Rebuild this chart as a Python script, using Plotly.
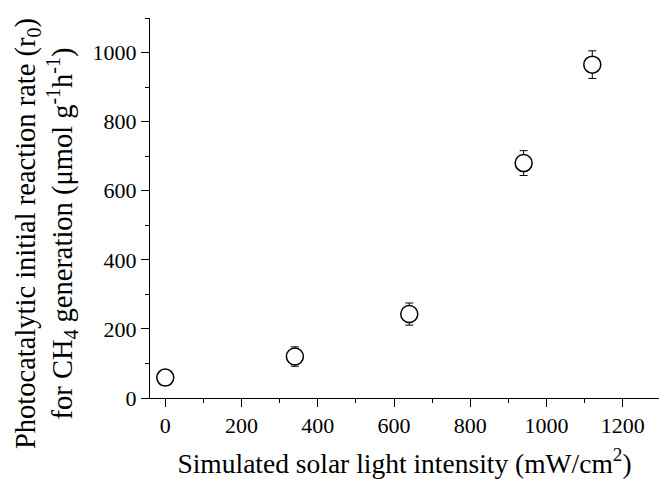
import plotly.graph_objects as go

intensity = [0, 340, 640, 940, 1120]
rate = [59, 120, 243, 680, 965]
rate_err = [5, 28, 32, 36, 40]

x_ticks = [0, 200, 400, 600, 800, 1000, 1200]
y_ticks = [0, 200, 400, 600, 800, 1000]

fig = go.Figure()
fig.add_trace(go.Scatter(
    x=intensity, y=rate, mode="markers",
    marker=dict(symbol="circle", size=17, color="white", line=dict(width=1.5, color="black")),
    error_y=dict(type="data", array=rate_err, visible=True, color="black", thickness=1, width=4),
    showlegend=False,
))

font_family = "Liberation Serif, Times New Roman, serif"
fig.update_layout(
    width=659, height=479,
    margin=dict(l=150, r=0, t=18, b=81),
    paper_bgcolor="white", plot_bgcolor="white",
    font=dict(family=font_family, color="black", size=22),
)
fig.update_xaxes(
    range=[-40, 1295], tickvals=x_ticks, ticktext=[str(v) for v in x_ticks],
    showline=True, linecolor="black", linewidth=1, showgrid=False, zeroline=False,
    ticks="outside", ticklen=8, tickwidth=1, tickcolor="black",
    tickfont=dict(size=22, family=font_family),
    minor=dict(ticks="outside", ticklen=4, tickwidth=1, tickcolor="black", dtick=100, tick0=0, showgrid=False),
    title=dict(text="Simulated solar light intensity (mW/cm<sup>2</sup>)", font=dict(size=27.5, family=font_family), standoff=19),
)
fig.update_yaxes(
    range=[0, 1100], tickvals=y_ticks, ticktext=[str(v) for v in y_ticks],
    showline=True, linecolor="black", linewidth=1, showgrid=False, zeroline=False,
    ticks="outside", ticklen=8, tickwidth=1, tickcolor="black",
    tickfont=dict(size=22, family=font_family),
    minor=dict(ticks="outside", ticklen=4, tickwidth=1, tickcolor="black", dtick=100, tick0=0, showgrid=False),
)
fig.add_annotation(
    text="Photocatalytic initial reaction rate (r<sub>0</sub>)<br>for CH<sub>4</sub> generation (μmol g<sup>-1</sup>h<sup>-1</sup>)",
    xref="paper", yref="paper", x=-(150 - 46) / 509, y=(398 - 234) / 380,
    xanchor="center", yanchor="middle", textangle=-90, showarrow=False,
    font=dict(size=28.5, family=font_family, color="black"),
)

fig.write_html("out.html")
